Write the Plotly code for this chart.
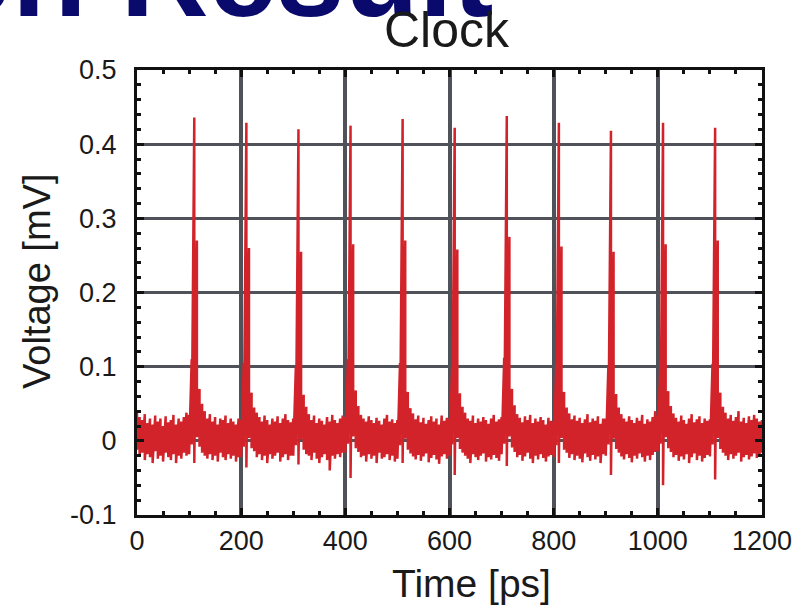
import plotly.graph_objects as go

# ---- data ----
step_ps = 5
time_ps = list(range(0, 1201, step_ps))

# upper / lower envelope of the noisy trace, 5 ps per sample, blocks of 100 ps
hi_mV = [
    .040, .032, .028, .036, .024, .030, .022, .034, .026, .030, .020, .033, .025, .028, .035, .022, .030, .026, .032, .038,
    .035, .110, .436, .270, .070, .050, .040, .030, .036, .026, .032, .022, .030, .028, .034, .024, .030, .026, .022, .030,
    .028, .105, .429, .260, .065, .045, .038, .032, .026, .034, .028, .022, .030, .026, .033, .024, .030, .036, .028, .025,
    .030, .100, .420, .255, .062, .046, .036, .028, .034, .024, .030, .027, .022, .032, .026, .035, .028, .024, .030, .034,
    .032, .110, .425, .265, .068, .047, .035, .030, .026, .033, .028, .024, .031, .027, .022, .030, .035, .026, .029, .024,
    .028, .105, .434, .270, .066, .044, .037, .029, .034, .025, .031, .023, .028, .033, .026, .030, .022, .034, .027, .031,
    .030, .100, .422, .258, .064, .046, .038, .030, .027, .034, .024, .030, .026, .032, .028, .023, .030, .035, .026, .029,
    .032, .112, .438, .275, .070, .048, .036, .031, .025, .033, .028, .035, .024, .030, .026, .032, .028, .022, .031, .027,
    .026, .104, .429, .262, .066, .045, .037, .029, .034, .027, .031, .024, .029, .036, .025, .030, .027, .033, .023, .030,
    .030, .100, .418, .255, .063, .045, .036, .030, .026, .033, .028, .024, .031, .027, .035, .023, .029, .026, .032, .040,
    .034, .108, .429, .265, .067, .047, .037, .031, .026, .034, .028, .023, .030, .036, .025, .029, .033, .024, .030, .027,
    .029, .104, .422, .270, .065, .046, .038, .030, .035, .027, .032, .040, .026, .031, .024, .033, .028, .035, .030, .026,
    .028,
]
lo_mV = [
    -.012, -.020, -.016, -.026, -.018, -.022, -.030, -.014, -.024, -.020, -.028, -.016, -.022, -.026, -.018, -.030, -.020, -.024, -.016, -.020,
    -.018, -.005, -.030, .005, -.008, -.016, -.020, -.024, -.018, -.026, -.020, -.028, -.016, -.022, -.026, -.018, -.024, -.020, -.028, -.022,
    -.022, -.008, -.036, .004, -.010, -.014, -.022, -.018, -.026, -.020, -.030, -.018, -.024, -.020, -.016, -.028, -.022, -.018, -.026, -.020,
    -.020, -.006, -.032, .002, -.012, -.018, -.020, -.026, -.016, -.024, -.030, -.022, -.018, -.026, -.040, -.020, -.024, -.018, -.022, -.016,
    -.016, -.004, -.050, .006, -.010, -.015, -.022, -.020, -.028, -.018, -.024, -.020, -.030, -.016, -.024, -.022, -.018, -.026, -.020, -.028,
    -.024, -.006, -.030, .003, -.012, -.017, -.021, -.025, -.019, -.027, -.021, -.017, -.029, -.023, -.019, -.025, -.031, -.021, -.018, -.024,
    -.020, -.005, -.046, .004, -.011, -.016, -.020, -.024, -.030, -.018, -.022, -.026, -.020, -.017, -.028, -.022, -.025, -.019, -.023, -.027,
    -.018, -.004, -.034, .006, -.009, -.015, -.022, -.019, -.027, -.021, -.016, -.024, -.030, -.020, -.025, -.018, -.023, -.028, -.021, -.019,
    -.022, -.006, -.030, .004, -.012, -.016, -.023, -.018, -.026, -.020, -.024, -.029, -.017, -.022, -.027, -.019, -.025, -.021, -.030, -.018,
    -.020, -.005, -.046, .003, -.011, -.016, -.021, -.025, -.018, -.023, -.029, -.020, -.024, -.017, -.022, -.028, -.020, -.026, -.019, -.015,
    -.014, -.004, -.060, .005, -.010, -.015, -.022, -.019, -.027, -.021, -.025, -.018, -.030, -.022, -.017, -.026, -.020, -.028, -.023, -.019,
    -.021, -.005, -.052, .004, -.011, -.016, -.020, -.026, -.018, -.024, -.020, -.016, -.028, -.022, -.019, -.025, -.021, -.017, -.023, -.020,
    -.016,
]

x_ticks = [0, 200, 400, 600, 800, 1000, 1200]
y_ticks = [-0.1, 0, 0.1, 0.2, 0.3, 0.4, 0.5]
y_ticktext = ["-0.1", "0", "0.1", "0.2", "0.3", "0.4", "0.5"]

title_text = "Clock"
header_text = "Simulation Result"
x_title = "Time [ps]"
y_title = "Voltage [mV]"

# interleave envelope -> dense oscilloscope-like trace
xs, ys = [], []
for t, h, l in zip(time_ps, hi_mV, lo_mV):
    xs += [t, t]
    ys += [h, l]

FONT = "Liberation Sans, Arial, Helvetica, sans-serif"
TXT = "#1a1a1a"

fig = go.Figure()
fig.add_trace(go.Scatter(
    x=xs, y=ys, mode="lines",
    line=dict(color="#d2232a", width=2.5),
    hoverinfo="skip", showlegend=False,
))

W, H = 800, 605
L, R, T, B = 137, 38, 70, 90
pw, ph = W - L - R, H - T - B

def px_x(px):
    return (px - L) / pw

def px_y(py):
    return (H - B - py) / ph

fig.update_layout(
    width=W, height=H,
    margin=dict(l=L, r=R, t=T, b=B, pad=0),
    paper_bgcolor="white", plot_bgcolor="white",
    font=dict(family=FONT, color=TXT),
    annotations=[
        dict(text="<b>" + header_text + "</b>", xref="paper", yref="paper",
             x=px_x(495), xanchor="right", y=px_y(44), yanchor="bottom",
             showarrow=False,
             font=dict(size=122, family=FONT, color="#0a0a6c")),
        dict(text=title_text, xref="paper", yref="paper",
             x=px_x(447), xanchor="center", y=px_y(60), yanchor="bottom",
             showarrow=False, font=dict(size=50, family=FONT, color=TXT)),
        dict(text=x_title, xref="paper", yref="paper",
             x=px_x(471), xanchor="center", y=px_y(607), yanchor="bottom",
             showarrow=False, font=dict(size=39, family=FONT, color=TXT)),
        dict(text=y_title, xref="paper", yref="paper", textangle=-90,
             x=px_x(37), xanchor="center", y=px_y(282), yanchor="middle",
             showarrow=False, font=dict(size=38, family=FONT, color=TXT)),
    ],
)

fig.update_xaxes(
    range=[0, 1200], tickvals=x_ticks, ticktext=[str(v) for v in x_ticks],
    ticks="inside", ticklen=7, tickwidth=3, tickcolor="#111111",
    showline=True, linewidth=3, linecolor="#111111", mirror="allticks",
    showgrid=True, gridcolor="#4f5359", gridwidth=3.5, zeroline=False,
    minor=dict(dtick=50, ticks="inside", ticklen=4, tickwidth=2.5,
               tickcolor="#111111", showgrid=False),
    tickfont=dict(size=27, family=FONT, color=TXT),
    automargin=False,
)
fig.update_yaxes(
    range=[-0.1, 0.5], tickvals=y_ticks, ticktext=y_ticktext,
    ticks="inside", ticklen=7, tickwidth=3, tickcolor="#111111",
    showline=True, linewidth=3, linecolor="#111111", mirror="allticks",
    showgrid=True, gridcolor="#4f5359", gridwidth=2.5, zeroline=False,
    minor=dict(dtick=0.02, ticks="inside", ticklen=4, tickwidth=2.5,
               tickcolor="#111111", showgrid=False),
    tickfont=dict(size=27, family=FONT, color=TXT),
    ticklabelstandoff=12,
    automargin=False,
)

fig.write_html("out.html")
